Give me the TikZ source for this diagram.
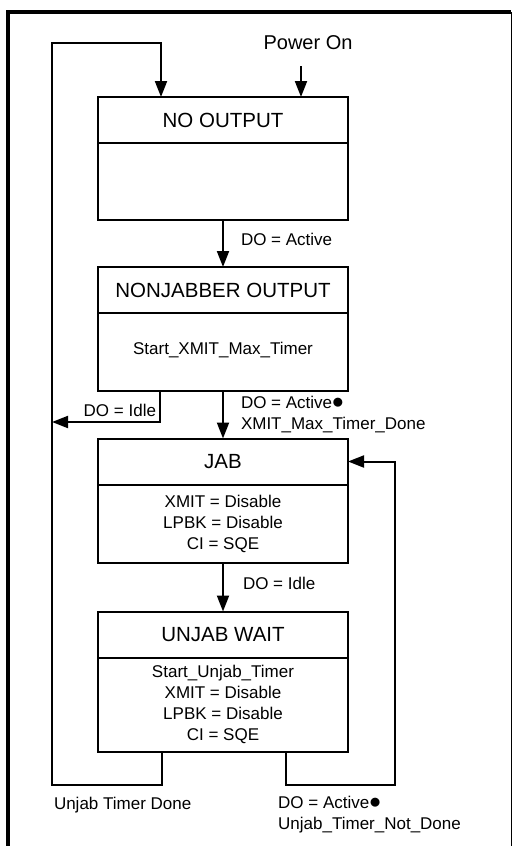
\documentclass[tikz,border=0pt]{standalone}
\usepackage{fontspec}
\setmainfont{Liberation Sans}
\usepackage{tikz}
\usetikzlibrary{positioning,arrows.meta}

\newcommand{\andmark}{\scalebox{1.35}{$\bullet$}}

\begin{document}
\begin{tikzpicture}[x=1pt, y=-1pt,
    head/.style={draw, line width=2pt, outer sep=0pt, inner sep=0pt,
                 minimum width=250pt, minimum height=46pt,
                 align=center, font=\fontsize{20.5}{24}\selectfont},
    body/.style={draw, line width=2pt, outer sep=0pt, inner sep=0pt,
                 minimum width=250pt, align=center, font=\fontsize{17}{21}\selectfont},
    arrow/.style={-{Triangle[length=16pt,width=12pt]}, line width=2pt},
    cond/.style={font=\fontsize{17}{21}\selectfont, align=left, inner sep=0pt}
  ]
    \useasboundingbox (0,0) rectangle (515,846);
    % frame
    \draw[line width=3.5pt] (8,846) -- (8,12) -- (511,12);
    \draw[line width=0.8pt] (511,12) -- (511,846);

    % states
    \node[head] (noout) at (223,120) {NO OUTPUT};
    \node[body, minimum height=77pt, below=0pt of noout] (nobody) {};
    \node[head] (nonjab) at (223,290) {NONJABBER OUTPUT};
    \node[body, minimum height=78pt, below=0pt of nonjab, text depth=8pt] (nonbody) {Start\_XMIT\_Max\_Timer};
    \node[head] (jab) at (223,461.5) {JAB};
    \node[body, minimum height=78pt, below=0pt of jab] (jabbody)
        {XMIT = Disable\\LPBK = Disable\\CI = SQE};
    \node[head] (unjab) at (223,634.5) {UNJAB WAIT};
    \node[body, minimum height=94pt, below=0pt of unjab] (unbody)
        {Start\_Unjab\_Timer\\XMIT = Disable\\LPBK = Disable\\CI = SQE};

    \coordinate (pwrin) at (301,66);
    \coordinate (idle) at (52,422);
    \coordinate (bl) at (52,785);
    \coordinate (tl) at (52,43);
    \coordinate (br) at (395,785);

    \node[cond, anchor=south, font=\fontsize{20}{24}\selectfont] (pwr) at (308,50) {Power On};
    \draw[arrow] (pwrin) -- (pwrin |- noout.north);

    \draw[arrow] (nobody.south) -- node[cond, anchor=west, xshift=17pt, yshift=4pt] {DO = Active} (nonjab.north);
    \draw[arrow] (nonbody.south) -- node[cond, anchor=west, xshift=17pt] {DO = Active\andmark\\XMIT\_Max\_Timer\_Done} (jab.north);
    \draw[arrow] (jabbody.south) -- node[cond, anchor=west, xshift=19pt, yshift=4pt] {DO = Idle} (unjab.north);

    \draw[arrow] ([xshift=-63pt]nonbody.south) |- node[cond, pos=0.5, anchor=south east, xshift=-3pt, yshift=4pt] {DO = Idle} (idle);

    \draw[arrow] ([xshift=-61pt]unbody.south) |- (bl)
        node[cond, anchor=north west, xshift=1pt, yshift=-11pt] {Unjab Timer Done}
        -- (tl) -| ([xshift=-62pt]noout.north);
    \draw[arrow] ([xshift=63pt]unbody.south) |- (br) |- (jab.east);

    \node[cond, anchor=north west] (undone) at (278,796) {DO = Active\andmark\\Unjab\_Timer\_Not\_Done};
\end{tikzpicture}
\end{document}
